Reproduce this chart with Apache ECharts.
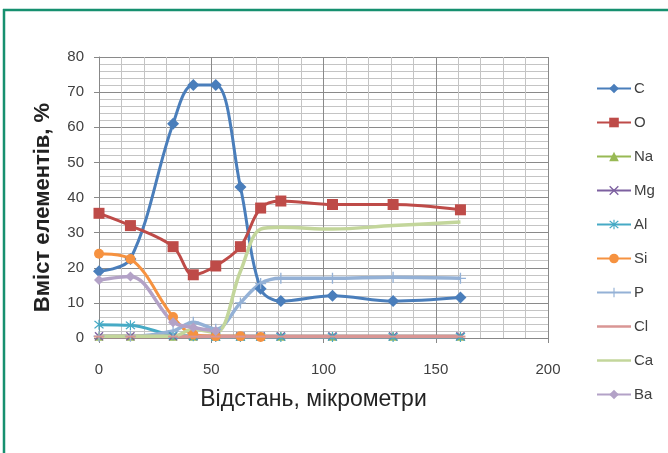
<!DOCTYPE html>
<html><head><meta charset="utf-8">
<script src="https://cdn.jsdelivr.net/npm/echarts@6/dist/echarts.min.js"></script>
<style>html,body{margin:0;padding:0;background:#fff}#c{width:668px;height:453px}</style>
</head><body><div id="c"></div>
<script>
// distances, micrometers
const distances = [0, 14, 33, 42, 52, 63, 72, 81, 104, 131, 161];
const seriesNames = ['C', 'O', 'Na', 'Mg', 'Al', 'Si', 'P', 'Cl', 'Ca', 'Ba'];
const C  = [19, 22.5, 61, 72, 72, 43, 14, 10.5, 12, 10.5, 11.5];
const O  = [35.5, 32, 26, 18, 20.5, 26, 37, 39, 38, 38, 36.5];
const Na = [0.5, 0.5, 0.5, 0.5, 0.5, 0.5, 0.5, 0.5, 0.5, 0.5, 0.5];
const Mg = [0.5, 0.5, 0.5, 0.5, 0.5, 0.5, 0.5, 0.5, 0.5, 0.5, 0.5];
const Al = [3.8, 3.6, 0.8, 0.5, 0.3, 0.3, 0.3, 0.3, 0.3, 0.3, 0.3];
const Si = [24, 22.5, 6, 1, 0.5, 0.5, 0.3, null, null, null, null];
const P  = [0.5, 0.5, 2, 4.5, 2.5, 10, 15.5, 17, 17, 17.3, 17];
const Cl = [0.4, 0.4, 0.4, 0.4, 0.4, 0.4, 0.4, 0.4, 0.4, 0.4, 0.4];
const Ca = [0.5, 0.5, 0.5, 2.5, 1.5, 19, 31, 31.5, 31, 32, 33];
const Ba = [16.5, 17.5, 4.5, 3, 2, null, null, null, null, null, null];
const xTicks = [0, 50, 100, 150, 200];
const yTicks = [0, 10, 20, 30, 40, 50, 60, 70, 80];

const values = {C, O, Na, Mg, Al, Si, P, Cl, Ca, Ba};
const colors = {C:'#4A7EBB', O:'#BE4B48', Na:'#98B954', Mg:'#7D60A0', Al:'#46AAC5', Si:'#F69240', P:'#94B1D6', Cl:'#D99694', Ca:'#C3D69B', Ba:'#B3A2C7'};
const X = 'path://M0,1L1,0L10,9L9,10Z M9,0L10,1L1,10L0,9Z';
const STAR = 'path://M0,1L1,0L10,9L9,10Z M9,0L10,1L1,10L0,9Z M4.4,-1H5.6V11H4.4Z';
const PLUS = 'path://M4.4,0H5.6V10H4.4Z M0,4.4H10V5.6H0Z';
const LINEICON = 'path://M0,0H34V2.5H0Z';
const symbols = {C:['diamond',12], O:['rect',11], Na:['triangle',9], Mg:[X,9], Al:[STAR,10], Si:['circle',10], P:[PLUS,11], Cl:['rect',[10,2]], Ca:['none',0], Ba:['diamond',10]};

const series = seriesNames.map(n => ({
  name: n, type: 'line', smooth: 0.35,
  data: distances.map((d, i) => [d, values[n][i]]),
  symbol: symbols[n][0], symbolSize: symbols[n][1],
  showSymbol: symbols[n][0] !== 'none',
  lineStyle: {color: colors[n], width: (n === 'P' || n === 'Ca' || n === 'Cl' || n === 'Ba') ? 3.5 : 3},
  itemStyle: {color: colors[n]},
  emphasis: {disabled: true}, animation: false
}));

const chart = echarts.init(document.getElementById('c'));
chart.setOption({
  backgroundColor: '#fff',
  animation: false,
  textStyle: {fontFamily: 'Liberation Sans, Arial, sans-serif'},
  grid: {left: 99, right: 120, top: 57, bottom: 115},
  xAxis: {
    type: 'value', min: xTicks[0], max: xTicks[xTicks.length-1], interval: 50,
    name: 'Відстань, мікрометри', nameLocation: 'middle', nameGap: 50,
    nameTextStyle: {fontSize: 23, color: '#222', padding: [0, 20, 0, 0]},
    axisLine: {show: true, lineStyle: {color: '#888'}},
    axisTick: {show: true, length: 5, lineStyle: {color: '#888'}},
    axisLabel: {fontSize: 15, color: '#404040', margin: 24},
    splitLine: {show: true, lineStyle: {color: '#8a8a8a', width: 1}},
    minorTick: {show: false, splitNumber: 5},
    minorSplitLine: {show: true, lineStyle: {color: '#c4c4c4', width: 1}}
  },
  yAxis: {
    type: 'value', min: yTicks[0], max: yTicks[yTicks.length-1], interval: 10,
    name: 'Вміст елементів, %', nameLocation: 'middle', nameGap: 45,
    nameTextStyle: {fontSize: 22, fontWeight: 'bold', color: '#222', padding: [0, 20, 0, 0]},
    axisLine: {show: true, lineStyle: {color: '#888'}},
    axisTick: {show: true, length: 5, lineStyle: {color: '#888'}},
    axisLabel: {fontSize: 15, color: '#404040', margin: 15},
    splitLine: {show: true, lineStyle: {color: '#8a8a8a', width: 1}},
    minorTick: {show: false, splitNumber: 5},
    minorSplitLine: {show: true, lineStyle: {color: '#c4c4c4', width: 1}}
  },
  legend: {
    orient: 'vertical', left: 591, top: 76, itemWidth: 34, itemHeight: 12, itemGap: 19,
    textStyle: {fontSize: 15, color: '#404040', padding: [0,0,0,-2]},
    data: seriesNames.map(n => (n === 'Ca' || n === 'Cl') ? {name: n, icon: LINEICON} : n)
  },
  graphic: [
    {type: 'line', shape: {x1: 3, y1: 10, x2: 668, y2: 10}, style: {stroke: '#16906f', lineWidth: 2.5}},
    {type: 'line', shape: {x1: 4, y1: 9, x2: 4, y2: 453}, style: {stroke: '#16906f', lineWidth: 2.5}}
  ],
  series: series
});
</script></body></html>
